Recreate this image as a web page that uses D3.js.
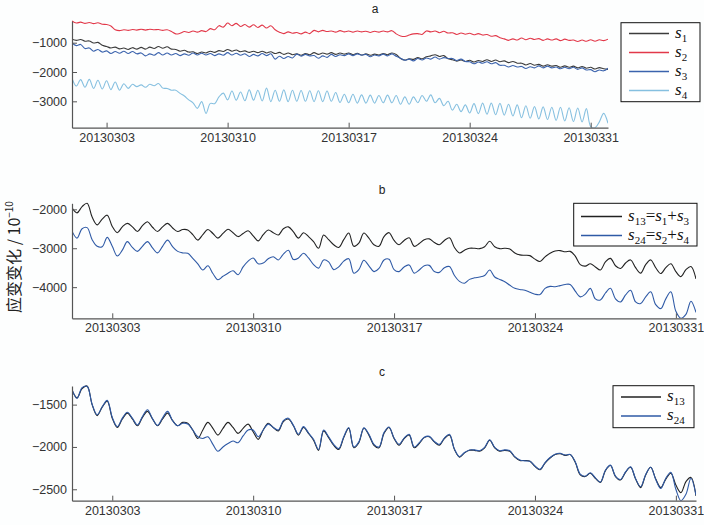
<!DOCTYPE html>
<html>
<head>
<meta charset="utf-8">
<script src="https://cdn.jsdelivr.net/npm/d3@7"></script>
<style>
  body { margin: 0; background: #fdfefe; }
  svg { display: block; }
  .tick text { font-family: "Liberation Sans", Arial, sans-serif; font-size: 12.5px; fill: #333; }
  .domain, .tick line { stroke: #555; }
</style>
</head>
<body>
<svg id="chart" width="704" height="525"></svg>
<script>
// Strain records sampled every 6 hours from 2013-03-01 00:00 to 2013-04-01 00:00
const startDate = "2013-03-01";
const stepHours = 6;
const tickDates = ["2013-03-03", "2013-03-10", "2013-03-17", "2013-03-24", "2013-03-31"];

const yTicksA = [-1000, -2000, -3000];
const yTicksB = [-2000, -3000, -4000];
const yTicksC = [-1500, -2000, -2500];

// panel a: four components (one row per day: 00h, 06h, 12h, 18h)
const s1 = [
  -880, -920, -890, -950,   -940, -1010, -990, -1090,   -1130, -1180, -1150, -1210,
  -1180, -1230, -1170, -1220,   -1160, -1220, -1150, -1200,   -1130, -1190, -1140, -1220,
  -1230, -1290, -1260, -1320,   -1310, -1370, -1320, -1350,   -1290, -1330, -1270, -1300,
  -1230, -1290, -1250, -1310,   -1280, -1330, -1290, -1340,   -1290, -1350, -1310, -1370,
  -1330, -1400, -1350, -1410,   -1380, -1430, -1370, -1410,   -1340, -1400, -1350, -1390,
  -1340, -1400, -1350, -1390,   -1350, -1410, -1360, -1420,   -1380, -1430, -1390, -1420,
  -1370, -1410, -1350, -1400,   -1540, -1590, -1550, -1570,   -1510, -1550, -1480, -1450,
  -1410, -1470, -1440, -1550,   -1580, -1630, -1590, -1640,   -1600, -1660, -1610, -1640,
  -1580, -1640, -1590, -1650,   -1620, -1680, -1640, -1700,   -1700, -1760, -1710, -1770,
  -1740, -1800, -1750, -1800,   -1780, -1840, -1790, -1840,   -1800, -1860, -1810, -1870,
  -1840, -1900, -1850, -1890,   -1910
];
const s2 = [
  -260, -330, -300, -340,   -310, -350, -320, -370,   -380, -430, -560, -590,
  -560, -580, -550, -570,   -540, -570, -540, -560,   -550, -580, -560, -620,
  -700, -680, -620, -650,   -600, -640, -590, -620,   -520, -560, -420, -470,
  -330, -420, -340, -450,   -380, -470, -390, -480,   -400, -500, -420, -560,
  -640, -690, -630, -680,   -650, -700, -640, -690,   -580, -630, -580, -620,
  -600, -640, -590, -630,   -600, -640, -600, -630,   -610, -650, -610, -640,
  -600, -630, -590, -700,   -770, -790, -740, -700,   -690, -720, -600, -630,
  -600, -660, -610, -670,   -660, -720, -670, -710,   -680, -730, -690, -740,
  -720, -780, -760, -830,   -870, -920, -870, -910,   -840, -900, -850, -890,
  -860, -920, -870, -910,   -870, -930, -880, -920,   -910, -960, -910, -950,
  -900, -950, -900, -930,   -880
];
const s3 = [
  -1010, -1100, -1060, -1200,   -1180, -1290, -1230, -1320,   -1280, -1370, -1300, -1360,
  -1290, -1370, -1300, -1380,   -1350, -1450, -1380, -1430,   -1340, -1420, -1350, -1420,
  -1370, -1440, -1380, -1430,   -1350, -1420, -1360, -1420,   -1370, -1440, -1380, -1430,
  -1340, -1420, -1360, -1430,   -1380, -1470, -1400, -1450,   -1370, -1440, -1380, -1560,
  -1460, -1540, -1470, -1520,   -1390, -1460, -1400, -1450,   -1440, -1530, -1450, -1500,
  -1400, -1470, -1410, -1440,   -1380, -1440, -1380, -1430,   -1400, -1480, -1420, -1450,
  -1390, -1450, -1380, -1460,   -1530, -1600, -1560, -1620,   -1540, -1590, -1520, -1560,
  -1490, -1560, -1510, -1540,   -1540, -1610, -1560, -1640,   -1650, -1720, -1660, -1700,
  -1650, -1720, -1680, -1770,   -1770, -1830, -1780, -1830,   -1810, -1880, -1820, -1860,
  -1790, -1860, -1800, -1860,   -1830, -1890, -1840, -1890,   -1840, -1910, -1860, -1930,
  -1920, -1990, -1930, -1960,   -1870
];
const s4 = [
  -2210, -2480, -2260, -2520,   -2250, -2560, -2280, -2580,   -2300, -2600, -2340, -2620,
  -2400, -2560, -2420, -2500,   -2440, -2520, -2420, -2470,   -2390, -2550, -2560, -2620,
  -2620, -2730, -2820, -2950,   -3050, -3240, -3010, -3410,   -3070, -3080, -2850, -2720,
  -2950, -2650, -2960, -2680,   -2980, -2610, -2960, -2620,   -2990, -2550, -3010, -2620,
  -3000, -2610, -3010, -2620,   -3000, -2630, -3000, -2640,   -3010, -2640, -3010, -2650,
  -3000, -2700, -3040, -2760,   -3050, -2760, -3060, -2780,   -3060, -2790, -3060, -2800,
  -3050, -2790, -3050, -2800,   -3100, -2850, -3100, -2850,   -3050, -2800, -3000, -2780,
  -3050, -2900, -3150, -3000,   -3300, -3100, -3350, -3120,   -3400, -3080, -3420, -3060,
  -3440, -3060, -3460, -3070,   -3470, -3100, -3500, -3120,   -3560, -3150, -3580, -3180,
  -3600, -3190, -3620, -3200,   -3650, -3200, -3670, -3220,   -3690, -3230, -3700, -3250,
  -3860, -3900, -3700, -3410,   -3750
];

// panel b: combined pairs
const s13 = [
  -1960, -2090, -1930, -1845,   -2200, -2400, -2250, -2150,   -2440, -2600, -2450, -2360,
  -2450, -2570, -2420, -2320,   -2460, -2570, -2450, -2360,   -2480, -2570, -2520, -2530,
  -2650, -2790, -2650, -2520,   -2620, -2740, -2620, -2510,   -2600, -2700, -2620, -2550,
  -2680, -2810, -2650, -2530,   -2600, -2660, -2500, -2450,   -2580, -2740, -2600, -2700,
  -2830, -3000, -2660, -2780,   -2910, -2980, -2780, -2610,   -2950, -2870, -2610, -2740,
  -2910, -2950, -2700, -2600,   -2800, -2910, -2800, -2730,   -2950, -2880, -2780, -2760,
  -2850, -2910, -2800, -2730,   -2980, -3120, -3050, -3000,   -3000, -3010, -2960, -2820,
  -2960, -3010, -3000, -3020,   -3120, -3170, -3180, -3190,   -3280, -3340, -3220, -3130,
  -3070, -3060, -3090, -3080,   -3200, -3420, -3460, -3400,   -3480, -3560, -3350, -3260,
  -3450, -3520, -3380, -3300,   -3500, -3640, -3420, -3300,   -3500, -3650, -3500, -3400,
  -3600, -3730, -3550, -3470,   -3790
];
const s24 = [
  -2560, -2740, -2500, -2470,   -2780, -2950, -2960, -2720,   -2950, -3200, -3050, -2830,
  -2980, -3080, -2950, -2830,   -2990, -3120, -2950, -2790,   -2960, -3080, -3120, -3130,
  -3260, -3400, -3560, -3450,   -3650, -3810, -3720, -3640,   -3580, -3680, -3480, -3330,
  -3250, -3400, -3380, -3270,   -3220, -3300, -3150, -3050,   -3290, -3250, -3130, -3250,
  -3420, -3510, -3300, -3350,   -3550, -3480, -3330, -3270,   -3640, -3550, -3310, -3450,
  -3600, -3520, -3300, -3280,   -3550, -3600, -3480, -3430,   -3640, -3560, -3450, -3440,
  -3600, -3620, -3500, -3470,   -3700, -3850, -3900, -3800,   -3760, -3740, -3700, -3560,
  -3740, -3800, -3860, -3950,   -4030, -4060, -4080, -4130,   -4180, -4190, -4030, -3980,
  -3990, -3960, -3930, -3930,   -4100, -4250, -4180, -4030,   -4300, -4330, -4150, -4030,
  -4300, -4380, -4200, -4080,   -4380, -4420, -4250, -4120,   -4450, -4550, -4300, -4120,
  -4620, -4800, -4700, -4360,   -4650
];

// panel c: the two combined records brought onto a common level
const s13c = [
  -1330, -1420, -1310, -1280,   -1500, -1630, -1530, -1460,   -1660, -1770, -1670, -1600,
  -1670, -1750, -1650, -1580,   -1670, -1750, -1670, -1600,   -1690, -1750, -1710, -1720,
  -1800, -1900, -1800, -1710,   -1780, -1860, -1780, -1710,   -1770, -1840, -1780, -1730,
  -1820, -1910, -1800, -1720,   -1770, -1810, -1700, -1670,   -1750, -1860, -1770, -1840,
  -1920, -2040, -1810, -1890,   -1980, -2030, -1890, -1780,   -2010, -1950, -1780, -1860,
  -1980, -2010, -1840, -1770,   -1900, -1980, -1900, -1860,   -2010, -1960, -1890, -1880,
  -1940, -1980, -1900, -1860,   -2030, -2120, -2070, -2040,   -2040, -2050, -2010, -1920,
  -2010, -2050, -2040, -2050,   -2120, -2160, -2160, -2170,   -2230, -2270, -2190, -2130,
  -2090, -2080, -2100, -2090,   -2180, -2330, -2350, -2310,   -2370, -2420, -2280, -2220,
  -2350, -2390, -2300, -2240,   -2380, -2480, -2330, -2240,   -2380, -2480, -2380, -2310,
  -2450, -2540, -2410, -2360,   -2580
];
const s24c = [
  -1320, -1425, -1300, -1285,   -1495, -1620, -1525, -1450,   -1650, -1760, -1660, -1590,
  -1660, -1740, -1640, -1560,   -1665, -1745, -1655, -1580,   -1690, -1750, -1720, -1730,
  -1800, -1880, -1900, -1880,   -1970, -2050, -2000, -1960,   -1930, -1950, -1870, -1800,
  -1800, -1880, -1800, -1730,   -1770, -1800, -1690, -1660,   -1745, -1850, -1760, -1835,
  -1910, -2030, -1800, -1880,   -1970, -2020, -1880, -1770,   -2000, -1940, -1775, -1850,
  -1970, -2000, -1830, -1765,   -1895, -1970, -1895, -1850,   -2000, -1950, -1885, -1875,
  -1935, -1970, -1895, -1850,   -2025, -2115, -2065, -2035,   -2035, -2045, -2005, -1915,
  -2005, -2045, -2035, -2045,   -2115, -2155, -2165, -2170,   -2225, -2265, -2185, -2125,
  -2085, -2075, -2095, -2090,   -2175, -2320, -2345, -2305,   -2365, -2415, -2275, -2215,
  -2345, -2385, -2295, -2235,   -2375, -2470, -2325, -2240,   -2385, -2490, -2370, -2300,
  -2500, -2635, -2560, -2370,   -2570
];

const parseDay = d3.utcParse("%Y-%m-%d");
const t0 = parseDay(startDate);
const times = d3.range(s1.length).map(i => d3.utcHour.offset(t0, i * stepHours));
const tickTimes = tickDates.map(parseDay);
const fmtDay = d3.utcFormat("%Y%m%d");

const svg = d3.select("#chart");

// legend entries: each label is a list of pieces; [base, subscript] pairs are italic s with index
const panels = [
  {
    id: "a", title: "a", left: 72, right: 608, top: 21, bottom: 127.7, yTicks: yTicksA, titleX: 375, titleY: 13,
    series: [
      { values: s1, color: "#3c3c3c", label: [["s", "1"]] },
      { values: s2, color: "#e2394a", label: [["s", "2"]] },
      { values: s3, color: "#3b63ad", label: [["s", "3"]] },
      { values: s4, color: "#86c0e0", label: [["s", "4"]] }
    ],
    legend: { x0: 621, y0: 22.7, x1: 700, y1: 101.7, rows: [33.5, 52.5, 71.5, 90.5], lineX0: 629, lineX1: 669, textX: 675 }
  },
  {
    id: "b", title: "b", left: 72, right: 696, top: 203.3, bottom: 318.3, yTicks: yTicksB, titleX: 382, titleY: 194,
    series: [
      { values: s13, color: "#222222", label: [["s", "13"], "=", ["s", "1"], "+", ["s", "3"]] },
      { values: s24, color: "#2f5aa6", label: [["s", "24"], "=", ["s", "2"], "+", ["s", "4"]] }
    ],
    legend: { x0: 573.7, y0: 203.3, x1: 697, y1: 246, rows: [216.5, 235.5], lineX0: 581, lineX1: 622, textX: 628 }
  },
  {
    id: "c", title: "c", left: 72, right: 696, top: 386, bottom: 500.7, yTicks: yTicksC, titleX: 382, titleY: 376,
    series: [
      { values: s13c, color: "#222222", label: [["s", "13"]] },
      { values: s24c, color: "#2f5aa6", label: [["s", "24"]] }
    ],
    legend: { x0: 613, y0: 385.7, x1: 694, y1: 427.7, rows: [397, 416], lineX0: 621, lineX1: 661, textX: 667 }
  }
];

const defs = svg.append("defs");

panels.forEach(p => {
  const x = d3.scaleUtc()
    .domain([t0, times[times.length - 1]])
    .range([p.left, p.right]);
  const allVals = p.series.flatMap(s => s.values);
  const y = d3.scaleLinear()
    .domain(d3.extent(allVals))
    .range([p.bottom, p.top]);

  defs.append("clipPath").attr("id", "clip-" + p.id)
    .append("rect")
    .attr("x", p.left).attr("y", p.top - 1)
    .attr("width", p.right - p.left).attr("height", p.bottom - p.top + 1);

  const g = svg.append("g");

  const line = d3.line()
    .x((d, i) => x(times[i]))
    .y(d => y(d))
    .curve(d3.curveCatmullRom.alpha(0.5));

  const plot = g.append("g").attr("clip-path", `url(#clip-${p.id})`);
  p.series.forEach(s => {
    plot.append("path")
      .attr("d", line(s.values))
      .attr("fill", "none")
      .attr("stroke", s.color)
      .attr("stroke-width", 1.1)
      .attr("stroke-linejoin", "round");
  });

  g.append("g")
    .attr("transform", `translate(0,${p.bottom})`)
    .call(d3.axisBottom(x).tickValues(tickTimes).tickFormat(fmtDay)
      .tickSizeInner(-5).tickSizeOuter(0).tickPadding(5));

  g.append("g")
    .attr("transform", `translate(${p.left},0)`)
    .call(d3.axisLeft(y).tickValues(p.yTicks).tickFormat(d3.format("d"))
      .tickSizeInner(-5).tickSizeOuter(0).tickPadding(5));

  g.selectAll(".domain").attr("stroke-width", 1.2);

  g.append("text")
    .attr("x", p.titleX).attr("y", p.titleY)
    .attr("text-anchor", "middle")
    .attr("font-family", "Liberation Sans, Arial, sans-serif")
    .attr("font-size", 12)
    .attr("fill", "#222")
    .text(p.title);

  // legend
  const L = p.legend;
  const lg = g.append("g");
  lg.append("rect")
    .attr("x", L.x0).attr("y", L.y0)
    .attr("width", L.x1 - L.x0).attr("height", L.y1 - L.y0)
    .attr("fill", "#fff").attr("stroke", "#111").attr("stroke-width", 1);
  p.series.forEach((s, i) => {
    const yy = L.rows[i];
    lg.append("line")
      .attr("x1", L.lineX0).attr("x2", L.lineX1)
      .attr("y1", yy).attr("y2", yy)
      .attr("stroke", s.color).attr("stroke-width", 1.4);
    const t = lg.append("text")
      .attr("x", L.textX).attr("y", yy + 4)
      .attr("font-family", "Liberation Serif, Times New Roman, serif")
      .attr("font-size", 17)
      .attr("fill", "#111");
    let lowered = false;
    s.label.forEach(piece => {
      if (Array.isArray(piece)) {
        t.append("tspan").attr("font-style", "italic")
          .attr("dy", lowered ? -4 : 0).text(piece[0]);
        t.append("tspan").attr("font-size", 11).attr("dy", 4).text(piece[1]);
        lowered = true;
      } else {
        t.append("tspan").attr("dy", lowered ? -4 : 0).text(piece);
        lowered = false;
      }
    });
  });
});

// shared vertical axis title
const yl = svg.append("text")
  .attr("transform", "translate(20,257) rotate(-90)")
  .attr("text-anchor", "middle")
  .attr("font-family", "Noto Sans CJK SC, sans-serif")
  .attr("font-size", 16)
  .attr("fill", "#222");
yl.append("tspan").text("应变变化 / 10");
yl.append("tspan").attr("font-size", 10).attr("dy", -7).text("\u221210");
</script>
</body>
</html>
